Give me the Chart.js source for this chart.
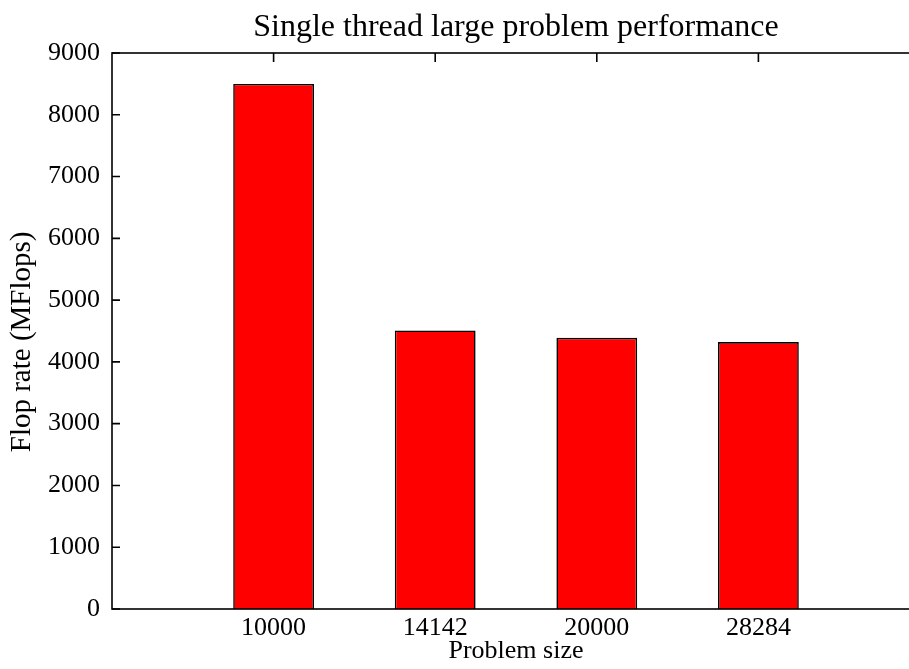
<!DOCTYPE html>
<html>
<head>
<meta charset="utf-8">
<title>Single thread large problem performance</title>
<script src="https://cdn.jsdelivr.net/npm/chart.js@4"></script>
<style>
  html, body { margin: 0; padding: 0; background: #fff; overflow: hidden; }
  #wrap { width: 909px; height: 669px; overflow: hidden; position: relative; }
  #wrap canvas { position: absolute; left: 0; top: 0; }
</style>
</head>
<body>
<div id="wrap"><canvas id="c" width="925" height="669" style="width:925px;height:669px"></canvas></div>
<script>
// Problem sizes along the x axis and measured single-thread flop rates (MFlops)
const categories = ['10000', '14142', '20000', '28284'];
const flopRates = [8500, 4510, 4390, 4320];
const yMin = 0;
const yMax = 9000;
const yStep = 1000;

// One empty slot on each side of the bars, like a histogram x range
const labels = ['', ...categories, ''];
const values = [null, ...flopRates, null];

const SERIF = "'Liberation Serif', 'Times New Roman', serif";

// Frame around the plot plus inward-pointing tick marks on all sides
const frameTicks = {
  id: 'frameTicks',
  beforeDatasetsDraw(chart) {
    const { ctx, chartArea: { left, right, top, bottom }, scales: { x, y } } = chart;
    ctx.save();
    ctx.strokeStyle = '#000';
    ctx.lineWidth = 1.6;
    ctx.beginPath();
    y.ticks.forEach(t => {
      const py = y.getPixelForValue(t.value);
      ctx.moveTo(left, py); ctx.lineTo(left + 8, py);
      ctx.moveTo(right, py); ctx.lineTo(right - 8, py);
    });
    categories.forEach((c, i) => {
      const px = x.getPixelForValue(i + 1);
      ctx.moveTo(px, top); ctx.lineTo(px, top + 9);
      ctx.moveTo(px, bottom); ctx.lineTo(px, bottom - 9);
    });
    ctx.stroke();
    ctx.restore();
  },
  afterDatasetsDraw(chart) {
    const { ctx, chartArea: { left, right, top, bottom } } = chart;
    ctx.save();
    ctx.strokeStyle = '#000';
    ctx.lineWidth = 1.6;
    ctx.strokeRect(left, top, right - left, bottom - top);
    ctx.restore();
  }
};

new Chart(document.getElementById('c'), {
  type: 'bar',
  data: {
    labels: labels,
    datasets: [{
      data: values,
      backgroundColor: '#ff0000',
      borderColor: '#000000',
      borderWidth: 1.6,
      barPercentage: 0.5,
      categoryPercentage: 1.0
    }]
  },
  options: {
    responsive: false,
    animation: false,
    devicePixelRatio: 1,
    layout: { padding: { left: 0, right: 5, top: 0, bottom: 0 } },
    plugins: {
      legend: { display: false },
      tooltip: { enabled: false },
      title: {
        display: true,
        fullSize: false,
        text: 'Single thread large problem performance',
        color: '#000',
        font: { family: SERIF, size: 32, weight: 'normal', lineHeight: 1.2 },
        padding: { top: 8, bottom: 6.6 }
      }
    },
    scales: {
      x: {
        offset: false,
        grid: { display: false, drawTicks: false },
        border: { display: false },
        ticks: {
          autoSkip: false,
          maxRotation: 0,
          color: '#000',
          padding: 4,
          font: { family: SERIF, size: 26 }
        },
        title: {
          display: true,
          text: 'Problem size',
          color: '#000',
          font: { family: SERIF, size: 26 },
          padding: { top: 0, bottom: 2 }
        },
        afterFit(scale) { scale.height = 60; }
      },
      y: {
        min: yMin,
        max: yMax,
        grid: { display: false, drawTicks: false },
        border: { display: false },
        ticks: {
          stepSize: yStep,
          color: '#000',
          padding: 12,
          font: { family: SERIF, size: 26 },
          callback: v => String(v)
        },
        title: {
          display: true,
          // trailing spaces nudge the rotated label slightly below the axis centre
          text: 'Flop rate (MFlops)   ',
          color: '#000',
          font: { family: SERIF, size: 29 },
          padding: { top: 5, bottom: 0 }
        },
        afterFit(scale) { scale.width = 112; }
      }
    }
  },
  plugins: [frameTicks]
});
</script>
</body>
</html>
